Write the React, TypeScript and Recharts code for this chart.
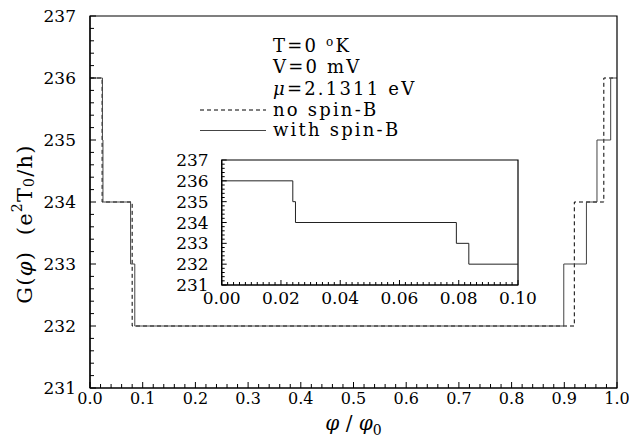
import React from 'react';
import { LineChart, Line, XAxis, YAxis, ReferenceArea, Legend } from 'recharts';

const FONT = '"DejaVu Serif", "Liberation Serif", serif';

// ---- main chart series (phi/phi0 where each step starts, G value from there) ----
const noSpinPhi = [0, 0.023, 0.08, 0.919, 0.975, 1.0];
const noSpinG = [236, 234, 232, 234, 236, 236];
const withSpinPhi = [0, 0.0236, 0.0246, 0.077, 0.085, 0.899, 0.942, 0.962, 0.988, 1.0];
const withSpinG = [236, 235, 234, 233, 232, 233, 234, 235, 236, 236];

// ---- inset series ----
const insetPhi = [0, 0.024, 0.0249, 0.0792, 0.0834, 0.1];
const insetG = [236, 235, 234, 233, 232, 232];

// ---- tick labels ----
const mainXTickLabels = ['0.0', '0.1', '0.2', '0.3', '0.4', '0.5', '0.6', '0.7', '0.8', '0.9', '1.0'];
const mainYTickLabels = ['231', '232', '233', '234', '235', '236', '237'];
const insetXTickLabels = ['0.00', '0.02', '0.04', '0.06', '0.08', '0.10'];
const insetYTickLabels = ['231', '232', '233', '234', '235', '236', '237'];

const mainXMinorStep = 0.02;
const mainYMinorStep = 0.2;
const insetXMinorStep = 0.002;
const insetYMinorStep = 0.2;

const toRows = (xs: number[], ys: number[]) => xs.map((phi, i) => ({ phi, g: ys[i] }));
const noSpinData = toRows(noSpinPhi, noSpinG);
const withSpinData = toRows(withSpinPhi, withSpinG);
const insetData = toRows(insetPhi, insetG);

const buildTicks = (min: number, max: number, step: number) => {
  const n = Math.round((max - min) / step);
  return Array.from({ length: n + 1 }, (_, i) => +(min + i * step).toFixed(6));
};

const findMajor = (majors: number[], v: number) => majors.findIndex((m) => Math.abs(m - v) < 1e-6);

const makeYTick = (labels: string[], majorLen: number, minorLen: number, fontSize: number, gap: number) => {
  const majors = labels.map(Number);
  return (props: any) => {
    const { x, y, payload } = props;
    const idx = findMajor(majors, payload.value);
    const len = idx >= 0 ? majorLen : minorLen;
    return (
      <g>
        <line x1={x} y1={y} x2={x + len} y2={y} stroke="#000" strokeWidth={1} />
        {idx >= 0 && (
          <text x={x - gap} y={y} dy="0.36em" textAnchor="end" fontSize={fontSize} fontFamily={FONT} fill="#000">
            {labels[idx]}
          </text>
        )}
      </g>
    );
  };
};

const makeXTick = (labels: string[], majorLen: number, minorLen: number, fontSize: number, gap: number) => {
  const majors = labels.map(Number);
  return (props: any) => {
    const { x, y, payload } = props;
    const idx = findMajor(majors, payload.value);
    const len = idx >= 0 ? majorLen : minorLen;
    return (
      <g>
        <line x1={x} y1={y} x2={x} y2={y - len} stroke="#000" strokeWidth={1} />
        {idx >= 0 && (
          <text x={x} y={y + gap} textAnchor="middle" fontSize={fontSize} fontFamily={FONT} fill="#000">
            {labels[idx]}
          </text>
        )}
      </g>
    );
  };
};

const YTitle = (props: any) => {
  const { viewBox } = props;
  const cx = viewBox.x + 25;
  const cy = viewBox.y + viewBox.height / 2 + 22;
  return (
    <text
      x={cx}
      y={cy}
      transform={`rotate(-90, ${cx}, ${cy})`}
      textAnchor="middle"
      dominantBaseline="central"
      fontSize={21}
      letterSpacing={1.2}
      fontFamily={FONT}
      fill="#000"
      style={{ whiteSpace: 'pre' }}
    >
      <tspan>G(</tspan>
      <tspan fontStyle="italic">φ</tspan>
      <tspan>)  (e</tspan>
      <tspan dy={-8} fontSize={14}>2</tspan>
      <tspan dy={8}>T</tspan>
      <tspan dy={4} fontSize={14}>0</tspan>
      <tspan dy={-4}>/h)</tspan>
    </text>
  );
};

const XTitle = (props: any) => {
  const { viewBox } = props;
  const cx = viewBox.x + viewBox.width / 2;
  const cy = viewBox.y + 42;
  return (
    <text x={cx} y={cy} textAnchor="middle" fontSize={20} fontFamily={FONT} fill="#000" style={{ whiteSpace: 'pre' }}>
      <tspan fontStyle="italic">φ</tspan>
      <tspan> / </tspan>
      <tspan fontStyle="italic">φ</tspan>
      <tspan dy={5} fontSize={14}>0</tspan>
    </text>
  );
};

const Annotation = () => (
  <svg width={250} height={120} style={{ overflow: 'visible' }}>
    <g fontFamily={FONT} fontSize={18} fill="#000" letterSpacing={2.2} style={{ whiteSpace: 'pre' }}>
      <text x={83} y={22}>
        <tspan>T=0  </tspan>
        <tspan dy={-6} fontSize={12}>o</tspan>
        <tspan dy={6}>K</tspan>
      </text>
      <text x={83} y={43}>V=0  mV</text>
      <text x={83} y={65}>
        <tspan fontStyle="italic">μ</tspan>
        <tspan>=2.1311  eV</tspan>
      </text>
      <text x={83} y={86}>no  spin-B</text>
      <text x={83} y={106}>with  spin-B</text>
    </g>
    <line x1={10} y1={80} x2={76} y2={80} stroke="#000" strokeWidth={1} strokeDasharray="4 3" />
    <line x1={10} y1={100.5} x2={76} y2={100.5} stroke="#444" strokeWidth={1} />
  </svg>
);

export default function App() {
  const mainXTicks = buildTicks(0, 1, mainXMinorStep);
  const mainYTicks = buildTicks(231, 237, mainYMinorStep);
  const insetXTicks = buildTicks(0, 0.1, insetXMinorStep);
  const insetYTicks = buildTicks(231, 237, insetYMinorStep);

  return (
    <div style={{ position: 'absolute', left: 0, top: 0, width: 629, height: 439, background: '#fff' }}>
      <div style={{ position: 'absolute', left: 0, top: 0 }}>
        <LineChart width={629} height={439} margin={{ top: 16, right: 12, bottom: 0, left: 0 }}>
          <XAxis
            dataKey="phi"
            type="number"
            domain={[0, 1]}
            ticks={mainXTicks}
            interval={0}
            tickSize={0}
            tickMargin={0}
            tickLine={false}
            tick={makeXTick(mainXTickLabels, 6, 4, 16, 16)}
            axisLine={{ stroke: '#000', strokeWidth: 1.2 }}
            height={51}
            allowDataOverflow
            label={<XTitle />}
          />
          <YAxis
            dataKey="g"
            type="number"
            domain={[231, 237]}
            ticks={mainYTicks}
            interval={0}
            tickSize={0}
            tickMargin={0}
            tickLine={false}
            tick={makeYTick(mainYTickLabels, 6, 4, 17, 14)}
            axisLine={{ stroke: '#000', strokeWidth: 1.2 }}
            width={90}
            allowDataOverflow
            label={<YTitle />}
          />
          <ReferenceArea x1={0} x2={1} y1={231} y2={237} fill="none" stroke="#000" strokeWidth={1.2} ifOverflow="visible" />
          <Line
            data={noSpinData}
            dataKey="g"
            type="stepAfter"
            stroke="#000"
            strokeWidth={1}
            strokeDasharray="4 3"
            dot={false}
            activeDot={false}
            isAnimationActive={false}
            name="no spin-B"
          />
          <Line
            data={withSpinData}
            dataKey="g"
            type="stepAfter"
            stroke="#444"
            strokeWidth={1}
            dot={false}
            activeDot={false}
            isAnimationActive={false}
            name="with spin-B"
          />
          <Legend
            layout="vertical"
            align="center"
            verticalAlign="middle"
            wrapperStyle={{ position: 'absolute', left: 190, top: 30, width: 250, height: 120 }}
            content={() => <Annotation />}
          />
        </LineChart>
      </div>
      <div style={{ position: 'absolute', left: 170, top: 150 }}>
        <LineChart width={385} height={165} margin={{ top: 10, right: 37, bottom: 0, left: 0 }}>
          <XAxis
            dataKey="phi"
            type="number"
            domain={[0, 0.1]}
            ticks={insetXTicks}
            interval={0}
            tickSize={0}
            tickMargin={0}
            tickLine={false}
            tick={makeXTick(insetXTickLabels, 5, 3, 17, 19)}
            axisLine={{ stroke: '#000', strokeWidth: 1.2 }}
            height={30}
            allowDataOverflow
          />
          <YAxis
            dataKey="g"
            type="number"
            domain={[231, 237]}
            ticks={insetYTicks}
            interval={0}
            tickSize={0}
            tickMargin={0}
            tickLine={false}
            tick={makeYTick(insetYTickLabels, 5, 3, 17, 13)}
            axisLine={{ stroke: '#000', strokeWidth: 1.2 }}
            width={51.7}
            allowDataOverflow
          />
          <ReferenceArea x1={0} x2={0.1} y1={231} y2={237} fill="none" stroke="#000" strokeWidth={1.2} ifOverflow="visible" />
          <Line
            data={insetData}
            dataKey="g"
            type="stepAfter"
            stroke="#222"
            strokeWidth={1}
            dot={false}
            activeDot={false}
            isAnimationActive={false}
            name="with spin-B (inset)"
          />
        </LineChart>
      </div>
    </div>
  );
}
